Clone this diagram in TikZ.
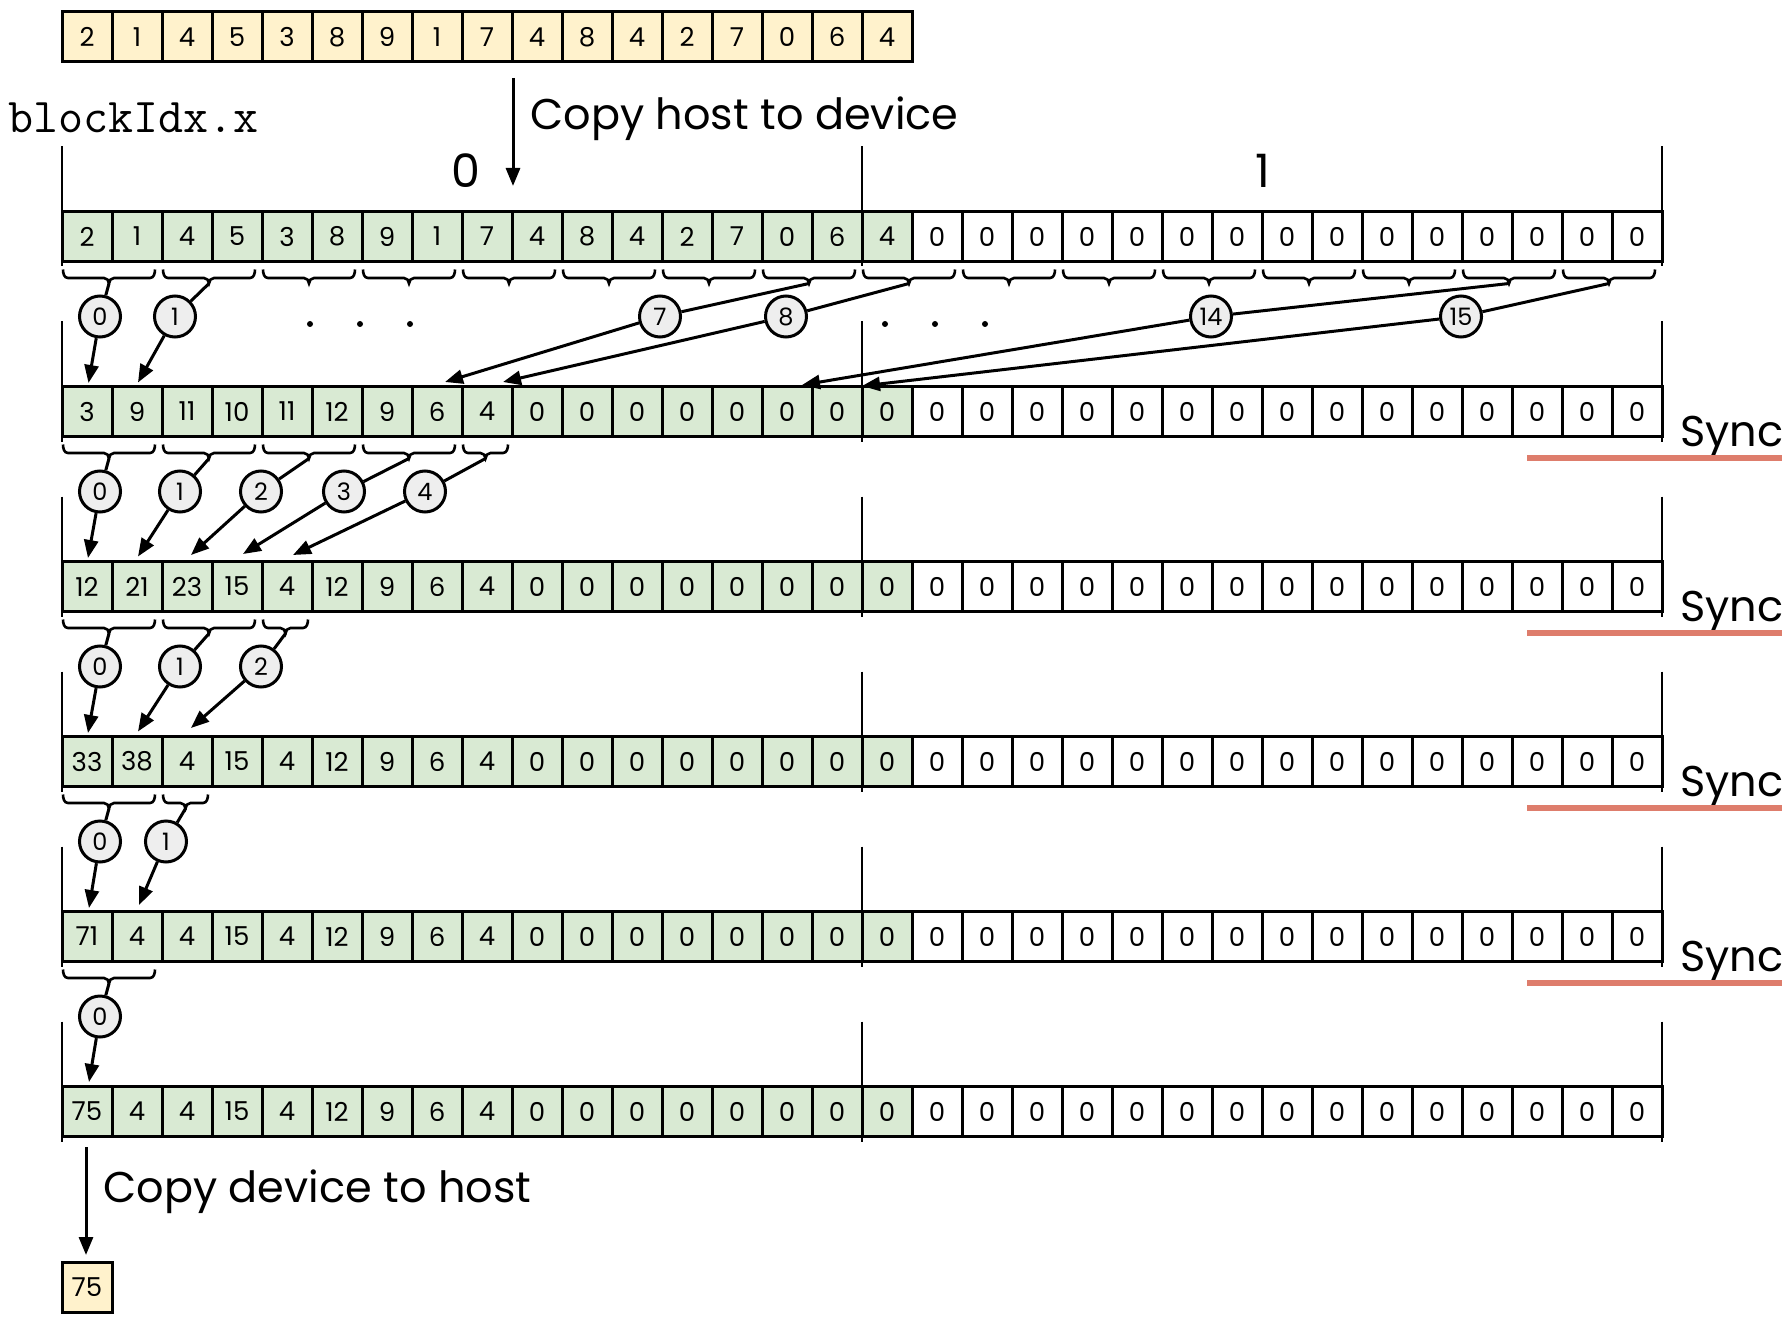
\documentclass[tikz,border=0pt]{standalone}
\usepackage{fontspec}
\setmainfont{Poppins}
\usetikzlibrary{arrows.meta}
\definecolor{cellgreen}{HTML}{D9EAD3}
\definecolor{cellyellow}{HTML}{FFF2CC}
\definecolor{circgray}{HTML}{EEEEEE}
\definecolor{syncred}{HTML}{DE7D6C}
\tikzset{
  cell/.style={draw, line width=1.5pt, minimum width=25pt, minimum height=25pt,
    inner sep=0pt, outer sep=0pt, anchor=north west, font=\fontsize{13}{13}\selectfont},
  gcell/.style={cell, fill=cellgreen},
  wcell/.style={cell, fill=white},
  hcell/.style={cell, fill=cellyellow},
  thread/.style={circle, draw, line width=1.5pt, fill=circgray, minimum size=20.5pt,
    inner sep=0pt, font=\fontsize{12}{12}\selectfont},
  blockline/.style={line width=1.3pt},
  bracel/.style={line width=1.3pt},
  link/.style={line width=1.5pt},
  arr/.style={line width=1.5pt, -{Triangle[length=9pt,width=7pt]}},
  bigtext/.style={font=\fontsize{21.5}{21.5}\selectfont, inner sep=0pt},
  synctext/.style={font=\fontsize{21.5}{21.5}\selectfont, inner sep=0pt, anchor=base west},
  syncline/.style={line width=3pt, draw=syncred},
  dotmark/.style={fill=black},
}
% device row: #1 row index, #2 values of first 17 cells
\newcommand\devrow[2]{%
  \pgfmathsetmacro\rowtop{211.5+175*(#1-1)}%
  \pgfmathsetmacro\rowlinetop{\rowtop-65}%
  \pgfmathsetmacro\rowlinebot{\rowtop+55}%
  \foreach \v [count=\i from 0] in {#2} {\pgfmathsetmacro\cx{62+50*\i}\node[gcell] (r#1c\i) at (\cx,\rowtop) {\v};}%
  \foreach \i in {17,...,31} {\pgfmathsetmacro\cx{62+50*\i}\node[wcell] (r#1c\i) at (\cx,\rowtop) {0};}%
  \foreach \xx in {62,862,1662} {\draw[blockline] (\xx,\rowlinetop) -- (\xx,\rowlinebot);}%
}
% brace below a row: #1 tip name, #2 left x, #3 right x, #4 row bottom y
\newcommand\mybrace[4]{%
  \pgfmathsetmacro\bxa{#2}%
  \pgfmathsetmacro\bxb{#3}%
  \pgfmathsetmacro\bxm{(\bxa+\bxb)/2}%
  \pgfmathsetmacro\bxal{\bxa+5}%
  \pgfmathsetmacro\bxml{\bxm-5}%
  \pgfmathsetmacro\bxmr{\bxm+5}%
  \pgfmathsetmacro\bxbl{\bxb-5}%
  \pgfmathsetmacro\bya{#4+8}%
  \pgfmathsetmacro\byc{#4+16.5}%
  \pgfmathsetmacro\byt{#4+22}%
  \draw[bracel] (\bxa,\bya) to[out=-90,in=180] (\bxal,\byc)
    -- (\bxml,\byc) to[out=0,in=90] (\bxm,\byt)
    to[out=90,in=180] (\bxmr,\byc) -- (\bxbl,\byc)
    to[out=0,in=-90] (\bxb,\bya);
  \coordinate (#1) at (\bxm,\byt);%
}
\begin{document}
\begin{tikzpicture}[x=0.5pt,y=-0.5pt]
\useasboundingbox (0,0) rectangle (1792,1326);

% host array
\foreach \v [count=\i from 0] in {2,1,4,5,3,8,9,1,7,4,8,4,2,7,0,6,4}
  {\pgfmathsetmacro\cx{62+50*\i}\node[hcell] (h\i) at (\cx,12) {\v};}

\node[anchor=base west, inner sep=0pt, font=\ttfamily\fontsize{24.3}{24.3}\selectfont] (bidx) at (8,132.5) {blockIdx.x};
\node[bigtext, anchor=base west] (cph) at (530,130) {Copy host to device};
\node[font=\fontsize{23}{23}\selectfont, inner sep=0pt] (blk0) at (466,171) {0};
\node[font=\fontsize{23}{23}\selectfont, inner sep=0pt] (blk1) at (1263,171) {1};

% device rows
\devrow{1}{2,1,4,5,3,8,9,1,7,4,8,4,2,7,0,6,4}
\devrow{2}{3,9,11,10,11,12,9,6,4,0,0,0,0,0,0,0,0}
\devrow{3}{12,21,23,15,4,12,9,6,4,0,0,0,0,0,0,0,0}
\devrow{4}{33,38,4,15,4,12,9,6,4,0,0,0,0,0,0,0,0}
\devrow{5}{71,4,4,15,4,12,9,6,4,0,0,0,0,0,0,0,0}
\devrow{6}{75,4,4,15,4,12,9,6,4,0,0,0,0,0,0,0,0}

\draw[arr] ([xshift=0.5pt,yshift=-8pt]h9.south west) -- ([xshift=0.5pt,yshift=12.75pt]r1c9.north west);

% Sync markers
\foreach \k in {2,3,4,5} {
  \pgfmathsetmacro\rowbot{261.5+175*(\k-1)}
  \pgfmathsetmacro\syb{\rowbot+10}
  \pgfmathsetmacro\syl{\rowbot+21.5}
  \node[synctext] (sync\k) at (1680,\syb) {Sync};
  \draw[syncline] (1527,\syl) -- (1782,\syl);
}

% ---- step 1 -> 2
\foreach \j in {0,...,15} {\mybrace{b1-\j}{62+100*\j+1}{62+100*\j+93}{261.5}}
\node[thread] (t1-0) at (100,316.5) {0};
\node[thread] (t1-1) at (175,316.5) {1};
\node[thread] (t1-7) at (660,316.5) {7};
\node[thread] (t1-8) at (786,316.5) {8};
\node[thread] (t1-14) at (1211,316.5) {14};
\node[thread] (t1-15) at (1461,316.5) {15};
\coordinate (p1-0) at (88.5,383);
\coordinate (p1-1) at (138,382.5);
\coordinate (p1-7) at (445,382);
\coordinate (p1-8) at (503,382);
\coordinate (p1-14) at (802,385);
\coordinate (p1-15) at (862,386);
\foreach \t in {0,1,7,8,14,15} {
  \draw[link] (b1-\t) -- (t1-\t);
  \draw[arr] (t1-\t) -- (p1-\t);
}
\foreach \xx in {310,360,410,885,935,985} {\fill[dotmark] (\xx,324) circle[radius=1.5pt];}

% ---- step 2 -> 3
\foreach \j in {0,...,3} {\mybrace{b2-\j}{62+100*\j+1}{62+100*\j+93}{436.5}}
\mybrace{b2-4}{463}{508}{436.5}
\foreach \t/\cx/\px/\py in {0/100/88/558, 1/180/138/556.5, 2/261/191/555, 3/344/243/554, 4/425/293/555} {
  \node[thread] (t2-\t) at (\cx,491.5) {\t};
  \coordinate (p2-\t) at (\px,\py);
  \draw[link] (b2-\t) -- (t2-\t);
  \draw[arr] (t2-\t) -- (p2-\t);
}

% ---- step 3 -> 4
\foreach \j in {0,1} {\mybrace{b3-\j}{62+100*\j+1}{62+100*\j+93}{611.5}}
\mybrace{b3-2}{263}{308}{611.5}
\foreach \t/\cx/\px/\py in {0/100/88/733, 1/180/138/731.5, 2/261/191/728} {
  \node[thread] (t3-\t) at (\cx,666.5) {\t};
  \coordinate (p3-\t) at (\px,\py);
  \draw[link] (b3-\t) -- (t3-\t);
  \draw[arr] (t3-\t) -- (p3-\t);
}

% ---- step 4 -> 5
\mybrace{b4-0}{63}{155}{786.5}
\mybrace{b4-1}{163}{208}{786.5}
\foreach \t/\cx/\px/\py in {0/100/89/908, 1/166/139/905} {
  \node[thread] (t4-\t) at (\cx,841.5) {\t};
  \coordinate (p4-\t) at (\px,\py);
  \draw[link] (b4-\t) -- (t4-\t);
  \draw[arr] (t4-\t) -- (p4-\t);
}

% ---- step 5 -> 6
\mybrace{b5-0}{63}{155}{961.5}
\node[thread] (t5-0) at (100,1016.5) {0};
\coordinate (p5-0) at (89,1082);
\draw[link] (b5-0) -- (t5-0);
\draw[arr] (t5-0) -- (p5-0);

% result
\node[hcell] (res) at (62,1262) {75};
\draw[arr] ([xshift=-0.5pt,yshift=-5.25pt]r6c0.south) -- ([xshift=-0.5pt,yshift=3.5pt]res.north);
\node[bigtext, anchor=base west] (cpd) at (103,1202) {Copy device to host};
\end{tikzpicture}
\end{document}
